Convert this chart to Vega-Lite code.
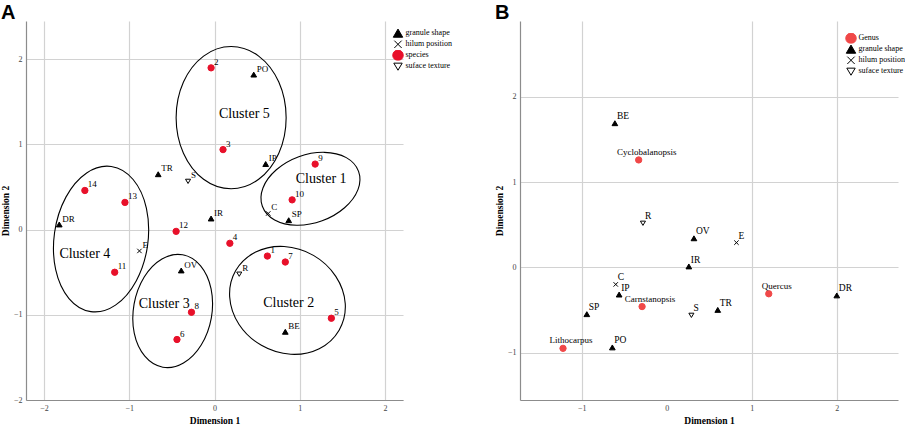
{
  "$schema": "https://vega.github.io/schema/vega-lite/v6.json",
  "padding": {"left": 0, "top": 3, "right": 0, "bottom": 0},
  "bounds": "flush",
  "spacing": 117,
  "config": {
    "view": {"stroke": null},
    "font": "Liberation Serif",
    "axis": {"grid": true, "gridColor": "#d2d2d2", "gridWidth": 1.2, "ticks": false, "domainColor": "#8c8c8c", "domainWidth": 1.2, "labelFont": "Liberation Serif", "labelFontSize": 8, "labelColor": "#444444", "labelPadding": 4, "titleFont": "Liberation Serif", "titleFontSize": 9.5, "titleFontWeight": "bold", "titleColor": "#000000", "titlePadding": 3},
    "legend": {"labelFont": "Liberation Serif", "labelFontSize": 8, "labelColor": "#000000", "symbolSize": 110, "clipHeight": 10.6, "rowPadding": 0, "labelOffset": 1.5, "symbolStrokeWidth": 1, "padding": 0},
    "title": {"font": "Liberation Sans", "fontSize": 20, "fontWeight": "bold", "anchor": "start", "frame": "group", "dx": -25, "dy": 5, "baseline": "alphabetic", "offset": 3, "color": "#000000"}
  },
  "resolve": {
    "scale": {"x": "independent", "y": "independent", "shape": "independent", "fill": "independent", "stroke": "independent"},
    "legend": {"shape": "independent", "fill": "independent", "stroke": "independent"}
  },
  "datasets": {
    "pointsA": [
      {"name": "1", "type": "species", "x": 0.62, "y": -0.31},
      {"name": "2", "type": "species", "x": -0.04, "y": 1.90},
      {"name": "3", "type": "species", "x": 0.10, "y": 0.94},
      {"name": "4", "type": "species", "x": 0.18, "y": -0.16},
      {"name": "5", "type": "species", "x": 1.37, "y": -1.04},
      {"name": "6", "type": "species", "x": -0.44, "y": -1.29},
      {"name": "7", "type": "species", "x": 0.83, "y": -0.38},
      {"name": "8", "type": "species", "x": -0.27, "y": -0.97},
      {"name": "9", "type": "species", "x": 1.18, "y": 0.77},
      {"name": "10", "type": "species", "x": 0.91, "y": 0.35},
      {"name": "11", "type": "species", "x": -1.17, "y": -0.50},
      {"name": "12", "type": "species", "x": -0.45, "y": -0.02},
      {"name": "13", "type": "species", "x": -1.05, "y": 0.32},
      {"name": "14", "type": "species", "x": -1.52, "y": 0.46},
      {"name": "PO", "type": "granule shape", "x": 0.46, "y": 1.82},
      {"name": "IP", "type": "granule shape", "x": 0.60, "y": 0.77},
      {"name": "TR", "type": "granule shape", "x": -0.66, "y": 0.65},
      {"name": "IR", "type": "granule shape", "x": -0.04, "y": 0.13},
      {"name": "SP", "type": "granule shape", "x": 0.87, "y": 0.11},
      {"name": "DR", "type": "granule shape", "x": -1.82, "y": 0.06},
      {"name": "OV", "type": "granule shape", "x": -0.39, "y": -0.48},
      {"name": "BE", "type": "granule shape", "x": 0.83, "y": -1.20},
      {"name": "E", "type": "hilum position", "x": -0.88, "y": -0.25},
      {"name": "C", "type": "hilum position", "x": 0.63, "y": 0.19},
      {"name": "S", "type": "suface texture", "x": -0.31, "y": 0.57},
      {"name": "R", "type": "suface texture", "x": 0.29, "y": -0.52}
    ],
    "pointsB": [
      {"name": "Cyclobalanopsis", "type": "Genus", "x": -0.33, "y": 1.26},
      {"name": "Carnstanopsis", "type": "Genus", "x": -0.29, "y": -0.46},
      {"name": "Lithocarpus", "type": "Genus", "x": -1.22, "y": -0.95},
      {"name": "Quercus", "type": "Genus", "x": 1.20, "y": -0.31},
      {"name": "BE", "type": "granule shape", "x": -0.61, "y": 1.69},
      {"name": "OV", "type": "granule shape", "x": 0.32, "y": 0.34},
      {"name": "IR", "type": "granule shape", "x": 0.26, "y": 0.01},
      {"name": "IP", "type": "granule shape", "x": -0.56, "y": -0.32},
      {"name": "SP", "type": "granule shape", "x": -0.94, "y": -0.55},
      {"name": "PO", "type": "granule shape", "x": -0.64, "y": -0.94},
      {"name": "TR", "type": "granule shape", "x": 0.60, "y": -0.50},
      {"name": "DR", "type": "granule shape", "x": 2.00, "y": -0.33},
      {"name": "E", "type": "hilum position", "x": 0.82, "y": 0.29},
      {"name": "C", "type": "hilum position", "x": -0.60, "y": -0.20},
      {"name": "R", "type": "suface texture", "x": -0.28, "y": 0.52},
      {"name": "S", "type": "suface texture", "x": 0.29, "y": -0.56}
    ],
    "clusterLabels": [
      {"label": "Cluster 1", "x": 1.25, "y": 0.59},
      {"label": "Cluster 2", "x": 0.87, "y": -0.86},
      {"label": "Cluster 3", "x": -0.59, "y": -0.87},
      {"label": "Cluster 4", "x": -1.52, "y": -0.28},
      {"label": "Cluster 5", "x": 0.35, "y": 1.36}
    ],
    "ellipses": [
      {"c": 5, "i": 0, "x": 0.840, "y": 1.315},
      {"c": 5, "i": 1, "x": 0.754, "y": 1.733},
      {"c": 5, "i": 2, "x": 0.518, "y": 2.038},
      {"c": 5, "i": 3, "x": 0.195, "y": 2.150},
      {"c": 5, "i": 4, "x": -0.128, "y": 2.038},
      {"c": 5, "i": 5, "x": -0.364, "y": 1.733},
      {"c": 5, "i": 6, "x": -0.450, "y": 1.315},
      {"c": 5, "i": 7, "x": -0.364, "y": 0.898},
      {"c": 5, "i": 8, "x": -0.128, "y": 0.592},
      {"c": 5, "i": 9, "x": 0.195, "y": 0.480},
      {"c": 5, "i": 10, "x": 0.518, "y": 0.592},
      {"c": 5, "i": 11, "x": 0.754, "y": 0.898},
      {"c": 1, "i": 0, "x": 1.689, "y": 0.685},
      {"c": 1, "i": 1, "x": 1.545, "y": 0.846},
      {"c": 1, "i": 2, "x": 1.288, "y": 0.908},
      {"c": 1, "i": 3, "x": 0.988, "y": 0.856},
      {"c": 1, "i": 4, "x": 0.725, "y": 0.703},
      {"c": 1, "i": 5, "x": 0.568, "y": 0.490},
      {"c": 1, "i": 6, "x": 0.561, "y": 0.275},
      {"c": 1, "i": 7, "x": 0.705, "y": 0.114},
      {"c": 1, "i": 8, "x": 0.962, "y": 0.052},
      {"c": 1, "i": 9, "x": 1.262, "y": 0.104},
      {"c": 1, "i": 10, "x": 1.525, "y": 0.257},
      {"c": 1, "i": 11, "x": 1.682, "y": 0.470},
      {"c": 4, "i": 0, "x": -1.210, "y": 0.742},
      {"c": 4, "i": 1, "x": -1.499, "y": 0.666},
      {"c": 4, "i": 2, "x": -1.742, "y": 0.382},
      {"c": 4, "i": 3, "x": -1.875, "y": -0.033},
      {"c": 4, "i": 4, "x": -1.862, "y": -0.470},
      {"c": 4, "i": 5, "x": -1.706, "y": -0.809},
      {"c": 4, "i": 6, "x": -1.450, "y": -0.962},
      {"c": 4, "i": 7, "x": -1.161, "y": -0.886},
      {"c": 4, "i": 8, "x": -0.918, "y": -0.602},
      {"c": 4, "i": 9, "x": -0.785, "y": -0.187},
      {"c": 4, "i": 10, "x": -0.798, "y": 0.250},
      {"c": 4, "i": 11, "x": -0.954, "y": 0.589},
      {"c": 3, "i": 0, "x": -0.374, "y": -0.295},
      {"c": 3, "i": 1, "x": -0.616, "y": -0.344},
      {"c": 3, "i": 2, "x": -0.824, "y": -0.556},
      {"c": 3, "i": 3, "x": -0.943, "y": -0.875},
      {"c": 3, "i": 4, "x": -0.941, "y": -1.216},
      {"c": 3, "i": 5, "x": -0.817, "y": -1.486},
      {"c": 3, "i": 6, "x": -0.606, "y": -1.615},
      {"c": 3, "i": 7, "x": -0.364, "y": -1.566},
      {"c": 3, "i": 8, "x": -0.156, "y": -1.354},
      {"c": 3, "i": 9, "x": -0.037, "y": -1.035},
      {"c": 3, "i": 10, "x": -0.040, "y": -0.694},
      {"c": 3, "i": 11, "x": -0.163, "y": -0.424},
      {"c": 2, "i": 0, "x": 1.461, "y": -1.180},
      {"c": 2, "i": 1, "x": 1.533, "y": -0.869},
      {"c": 2, "i": 2, "x": 1.422, "y": -0.548},
      {"c": 2, "i": 3, "x": 1.160, "y": -0.302},
      {"c": 2, "i": 4, "x": 0.816, "y": -0.198},
      {"c": 2, "i": 5, "x": 0.483, "y": -0.263},
      {"c": 2, "i": 6, "x": 0.249, "y": -0.480},
      {"c": 2, "i": 7, "x": 0.178, "y": -0.791},
      {"c": 2, "i": 8, "x": 0.288, "y": -1.113},
      {"c": 2, "i": 9, "x": 0.550, "y": -1.358},
      {"c": 2, "i": 10, "x": 0.894, "y": -1.463},
      {"c": 2, "i": 11, "x": 1.228, "y": -1.397}
    ]
  },
  "hconcat": [
    {
      "width": 377,
      "height": 379,
      "title": {"text": "A"},
      "layer": [
        {
          "data": {"name": "ellipses"},
          "mark": {"type": "line", "interpolate": "cardinal-closed", "stroke": "#000000", "strokeWidth": 1.1},
          "encoding": {
            "x": {"field": "x", "type": "quantitative", "scale": {"domain": [-2.21, 2.21], "nice": false, "zero": false}, "axis": {"values": [-2, -1, 0, 1, 2]}, "title": "Dimension 1"},
            "y": {"field": "y", "type": "quantitative", "scale": {"domain": [-2, 2.45], "nice": false, "zero": false}, "axis": {"values": [-2, -1, 0, 1, 2]}, "title": "Dimension 2"},
            "detail": {"field": "c", "type": "nominal"},
            "order": {"field": "i", "type": "quantitative"}
          }
        },
        {
          "mark": {"type": "rule", "color": "#3a3a3a", "strokeWidth": 1},
          "encoding": {
            "x": {"datum": 0, "type": "quantitative", "scale": {"domain": [-2.21, 2.21], "nice": false, "zero": false}, "axis": {"values": [-2, -1, 0, 1, 2]}, "title": "Dimension 1"}
          }
        },
        {
          "mark": {"type": "rule", "color": "#3a3a3a", "strokeWidth": 1},
          "encoding": {
            "y": {"datum": 0, "type": "quantitative", "scale": {"domain": [-2, 2.45], "nice": false, "zero": false}, "axis": {"values": [-2, -1, 0, 1, 2]}, "title": "Dimension 2"}
          }
        },
        {
          "data": {"name": "pointsA"},
          "mark": {"type": "point", "opacity": 1, "strokeWidth": 1, "filled": true, "size": 40},
          "encoding": {
            "x": {"field": "x", "type": "quantitative", "scale": {"domain": [-2.21, 2.21], "nice": false, "zero": false}, "axis": {"values": [-2, -1, 0, 1, 2]}, "title": "Dimension 1"},
            "y": {"field": "y", "type": "quantitative", "scale": {"domain": [-2, 2.45], "nice": false, "zero": false}, "axis": {"values": [-2, -1, 0, 1, 2]}, "title": "Dimension 2"},
            "shape": {"field": "type", "type": "nominal", "scale": {"domain": ["granule shape", "hilum position", "species", "suface texture"], "range": ["M0,-0.8L0.9,0.75L-0.9,0.75Z", "M-0.7,-0.7L0.7,0.7M-0.7,0.7L0.7,-0.7", "circle", "M-0.8,-0.6L0.8,-0.6L0,0.75Z"]}, "legend": {"orient": "none", "legendX": 366, "legendY": 7, "title": null}},
            "fill": {"field": "type", "type": "nominal", "scale": {"domain": ["granule shape", "hilum position", "species", "suface texture"], "range": ["#000000", "#000000", "#e8102a", "#ffffff"]}, "legend": {"orient": "none", "legendX": 366, "legendY": 7, "title": null}},
            "stroke": {"field": "type", "type": "nominal", "scale": {"domain": ["granule shape", "hilum position", "species", "suface texture"], "range": ["#000000", "#000000", "#e8102a", "#000000"]}, "legend": {"orient": "none", "legendX": 366, "legendY": 7, "title": null}}
          }
        },
        {
          "data": {"name": "pointsA"},
          "mark": {"type": "text", "align": "left", "baseline": "middle", "dx": 3, "dy": -6, "font": "Liberation Serif", "fontSize": 9, "color": "#000000"},
          "encoding": {
            "x": {"field": "x", "type": "quantitative", "scale": {"domain": [-2.21, 2.21], "nice": false, "zero": false}, "axis": {"values": [-2, -1, 0, 1, 2]}, "title": "Dimension 1"},
            "y": {"field": "y", "type": "quantitative", "scale": {"domain": [-2, 2.45], "nice": false, "zero": false}, "axis": {"values": [-2, -1, 0, 1, 2]}, "title": "Dimension 2"},
            "text": {"field": "name", "type": "nominal"}
          }
        },
        {
          "data": {"name": "clusterLabels"},
          "mark": {"type": "text", "align": "center", "baseline": "middle", "font": "Liberation Serif", "fontSize": 14, "color": "#000000"},
          "encoding": {
            "x": {"field": "x", "type": "quantitative", "scale": {"domain": [-2.21, 2.21], "nice": false, "zero": false}, "axis": {"values": [-2, -1, 0, 1, 2]}, "title": "Dimension 1"},
            "y": {"field": "y", "type": "quantitative", "scale": {"domain": [-2, 2.45], "nice": false, "zero": false}, "axis": {"values": [-2, -1, 0, 1, 2]}, "title": "Dimension 2"},
            "text": {"field": "label", "type": "nominal"}
          }
        }
      ]
    },
    {
      "width": 378,
      "height": 379,
      "title": {"text": "B"},
      "layer": [
        {
          "mark": {"type": "rule", "color": "#3a3a3a", "strokeWidth": 1},
          "encoding": {
            "x": {"datum": 0, "type": "quantitative", "scale": {"domain": [-1.726, 2.72], "nice": false, "zero": false}, "axis": {"values": [-1, 0, 1, 2], "gridOpacity": {"condition": {"test": "datum.value === 0", "value": 0}, "value": 1}}, "title": "Dimension 1"},
            "y": {"datum": -1, "type": "quantitative", "scale": {"domain": [-1.556, 2.89], "nice": false, "zero": false}, "axis": {"values": [-1, 0, 1, 2]}, "title": "Dimension 2"},
            "y2": {"datum": 2.33}
          }
        },
        {
          "mark": {"type": "rule", "color": "#3a3a3a", "strokeWidth": 1},
          "encoding": {
            "y": {"datum": 0, "type": "quantitative", "scale": {"domain": [-1.556, 2.89], "nice": false, "zero": false}, "axis": {"values": [-1, 0, 1, 2]}, "title": "Dimension 2"}
          }
        },
        {
          "data": {"name": "pointsB"},
          "mark": {"type": "point", "opacity": 1, "strokeWidth": 1, "filled": true, "size": 40},
          "encoding": {
            "x": {"field": "x", "type": "quantitative", "scale": {"domain": [-1.726, 2.72], "nice": false, "zero": false}, "axis": {"values": [-1, 0, 1, 2], "gridOpacity": {"condition": {"test": "datum.value === 0", "value": 0}, "value": 1}}, "title": "Dimension 1"},
            "y": {"field": "y", "type": "quantitative", "scale": {"domain": [-1.556, 2.89], "nice": false, "zero": false}, "axis": {"values": [-1, 0, 1, 2]}, "title": "Dimension 2"},
            "shape": {"field": "type", "type": "nominal", "scale": {"domain": ["Genus", "granule shape", "hilum position", "suface texture"], "range": ["circle", "M0,-0.8L0.9,0.75L-0.9,0.75Z", "M-0.7,-0.7L0.7,0.7M-0.7,0.7L0.7,-0.7", "M-0.8,-0.6L0.8,-0.6L0,0.75Z"]}, "legend": {"orient": "none", "legendX": 325, "legendY": 12, "title": null}},
            "fill": {"field": "type", "type": "nominal", "scale": {"domain": ["Genus", "granule shape", "hilum position", "suface texture"], "range": ["#f04848", "#000000", "#000000", "#ffffff"]}, "legend": {"orient": "none", "legendX": 325, "legendY": 12, "title": null}},
            "stroke": {"field": "type", "type": "nominal", "scale": {"domain": ["Genus", "granule shape", "hilum position", "suface texture"], "range": ["#f04848", "#000000", "#000000", "#000000"]}, "legend": {"orient": "none", "legendX": 325, "legendY": 12, "title": null}}
          }
        },
        {
          "data": {"name": "pointsB"},
          "transform": [{"filter": "datum.type !== 'Genus'"}],
          "mark": {"type": "text", "align": "left", "baseline": "middle", "dx": 2, "dy": -7, "font": "Liberation Serif", "fontSize": 9.5, "color": "#000000"},
          "encoding": {
            "x": {"field": "x", "type": "quantitative", "scale": {"domain": [-1.726, 2.72], "nice": false, "zero": false}, "axis": {"values": [-1, 0, 1, 2], "gridOpacity": {"condition": {"test": "datum.value === 0", "value": 0}, "value": 1}}, "title": "Dimension 1"},
            "y": {"field": "y", "type": "quantitative", "scale": {"domain": [-1.556, 2.89], "nice": false, "zero": false}, "axis": {"values": [-1, 0, 1, 2]}, "title": "Dimension 2"},
            "text": {"field": "name", "type": "nominal"}
          }
        },
        {
          "data": {"name": "pointsB"},
          "transform": [{"filter": "datum.type === 'Genus'"}],
          "mark": {"type": "text", "align": "center", "baseline": "middle", "dx": 8, "dy": -8, "font": "Liberation Serif", "fontSize": 9, "color": "#000000"},
          "encoding": {
            "x": {"field": "x", "type": "quantitative", "scale": {"domain": [-1.726, 2.72], "nice": false, "zero": false}, "axis": {"values": [-1, 0, 1, 2], "gridOpacity": {"condition": {"test": "datum.value === 0", "value": 0}, "value": 1}}, "title": "Dimension 1"},
            "y": {"field": "y", "type": "quantitative", "scale": {"domain": [-1.556, 2.89], "nice": false, "zero": false}, "axis": {"values": [-1, 0, 1, 2]}, "title": "Dimension 2"},
            "text": {"field": "name", "type": "nominal"}
          }
        }
      ]
    }
  ]
}
